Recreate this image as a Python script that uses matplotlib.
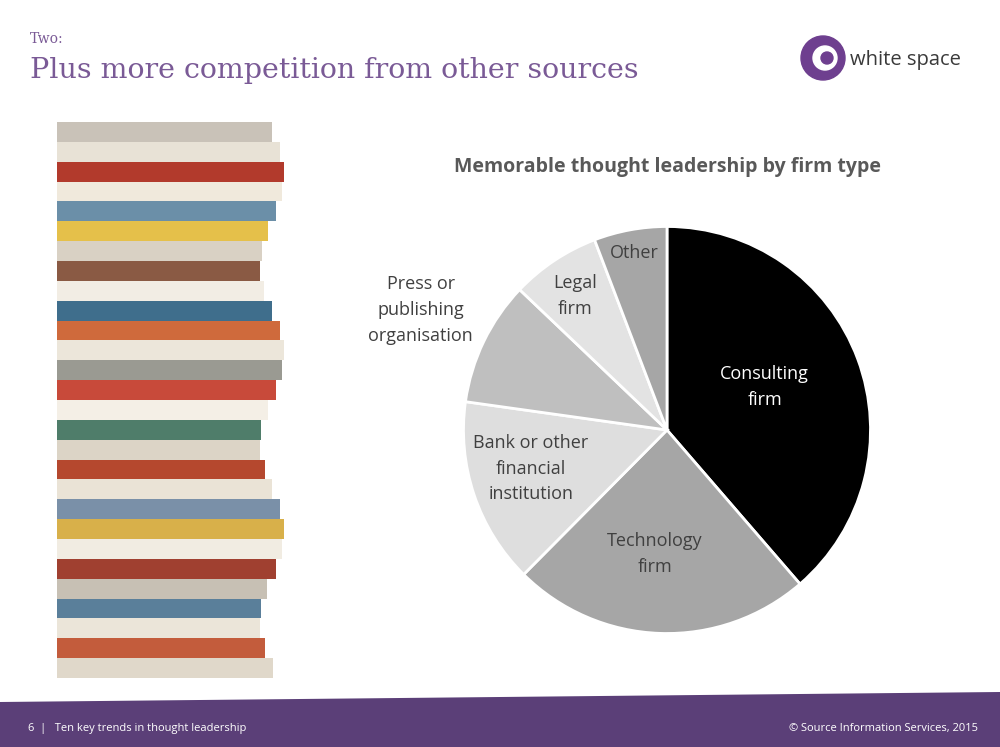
import matplotlib.pyplot as plt
import matplotlib.patches as mpatches
import numpy as np

labels = ['Consulting\nfirm', 'Technology\nfirm', 'Bank or other\nfinancial\ninstitution',
          'Press or\npublishing\norganisation', 'Legal\nfirm', 'Other']
shares = [38.7, 23.8, 14.8, 9.9, 7.1, 5.8]
colors = ['#000000', '#a6a6a6', '#dedede', '#bfbfbf', '#e3e3e3', '#a6a6a6']
label_colors = ['white', '#404040', '#404040', '#404040', '#404040', '#404040']
label_xy = [(0.48, 0.21), (-0.06, -0.61), (-0.67, -0.19), (-1.21, 0.59),
            (-0.45, 0.66), (-0.16, 0.87)]

# stripe colours for the magazine stack placeholder
stripe_colors = ['#c9c2b8', '#e8e2d6', '#b23a2c', '#f0e9dc', '#6b8fa8', '#e5c04a', '#d9d1c4',
                 '#8a5a44', '#f2ede4', '#3f6e8c', '#cf6a3c', '#ece6da', '#9a9a92', '#c84a3a',
                 '#f4efe6', '#4f7d6a', '#dcd4c6', '#b5482e', '#eae3d6', '#7a90a8', '#d8b04a',
                 '#f1ece2', '#a04030', '#c7c0b4', '#5a7f9a', '#ebe5d9', '#c35c3c', '#e0d8ca']

plt.rcParams['font.family'] = ['Open Sans', 'DejaVu Sans']
fig = plt.figure(figsize=(10, 7.47), dpi=100)
bg = fig.add_axes([0, 0, 1, 1])
bg.set_xlim(0, 1000)
bg.set_ylim(747, 0)
bg.axis('off')

purple = '#7a5a96'
bg.text(30, 43, 'Two:', fontsize=10, color=purple, family='DejaVu Serif')
bg.text(30, 78, 'Plus more competition from other sources', fontsize=20.5, color=purple,
        family='DejaVu Serif')

# logo
bg.add_patch(mpatches.Circle((823, 58), 22, color='#6e3f8f'))
bg.add_patch(mpatches.Circle((825, 58), 12, color='white'))
bg.add_patch(mpatches.Circle((827, 58), 6, color='#6e3f8f'))
bg.text(850, 65, 'white space', fontsize=14.5, color='#3a3a3a')

# magazine stack placeholder
n = len(stripe_colors)
h = (678 - 122) / n
for i, c in enumerate(stripe_colors):
    off = 12 * np.sin(i * 0.7)
    bg.add_patch(mpatches.Rectangle((57, 122 + i * h), 215 + off, h, color=c, lw=0))

# footer band
xs = np.linspace(0, 1000, 200)
top = 702 - 10 * xs / 1000
bg.fill_between(xs, top, 747, color='#5b3f78', lw=0)
bg.text(28, 731, '6  |   Ten key trends in thought leadership', fontsize=8, color='white')
bg.text(978, 731, '\u00a9 Source Information Services, 2015', fontsize=8, color='white', ha='right')

bg.text(667, 172, 'Memorable thought leadership by firm type', fontsize=14,
        fontweight='bold', color='#595959', ha='center')

r = 0.2035
ax = fig.add_axes([0.667 - r, 1 - 0.430 / 0.747 - r * 1000 / 747,
                   2 * r, 2 * r * 1000 / 747])
wedges, _ = ax.pie(shares, colors=colors, startangle=90, counterclock=False,
                   wedgeprops=dict(edgecolor='white', linewidth=2))
ax.set_xlim(-1, 1)
ax.set_ylim(-1, 1)
ax.set_aspect('equal')

for lab, lc, xy in zip(labels, label_colors, label_xy):
    ax.text(xy[0], xy[1], lab, ha='center', va='center', fontsize=13, color=lc,
            linespacing=1.55, clip_on=False)

fig.savefig('out.png', dpi=100)
